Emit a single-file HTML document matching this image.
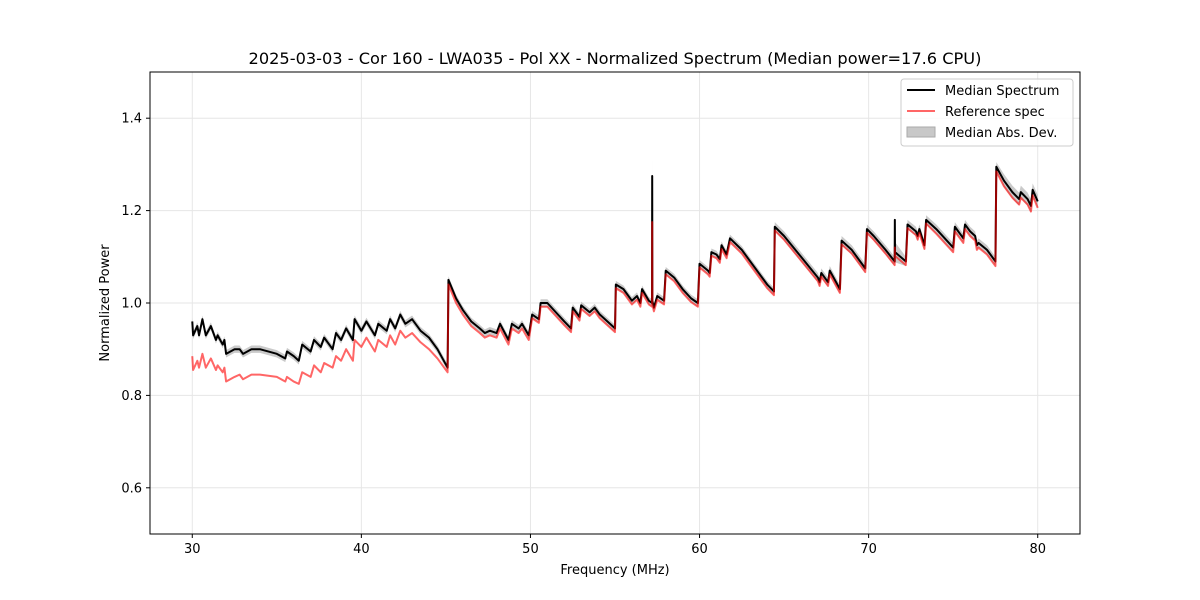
<!DOCTYPE html>
<html><head><meta charset="utf-8"><style>
body{margin:0;background:#fff;}
svg{display:block;font-family:"DejaVu Sans","Liberation Sans",sans-serif;}
</style></head><body>
<svg id="chart" width="1200" height="600">
<rect width="1200" height="600" fill="#fff"/>
<text x="615" y="64" text-anchor="middle" font-size="16.2">2025-03-03 - Cor 160 - LWA035 - Pol XX - Normalized Spectrum (Median power=17.6 CPU)</text>
<g id="grid"></g>
<g id="marks"></g>
<rect x="150" y="72" width="930" height="462" fill="none" stroke="#000" stroke-width="1"/>
<g id="axes"></g>
<text x="615" y="574" text-anchor="middle" font-size="13">Frequency (MHz)</text>
<text transform="translate(109,303) rotate(-90)" text-anchor="middle" font-size="13">Normalized Power</text>
<g>
<rect x="901" y="79" width="172" height="67" rx="3" fill="#fff" fill-opacity="0.8" stroke="#ccc"/>
<line x1="907" y1="90" x2="935" y2="90" stroke="#000" stroke-width="2"/>
<text x="945" y="95" font-size="13">Median Spectrum</text>
<line x1="907" y1="111" x2="935" y2="111" stroke="#ff6666" stroke-width="2"/>
<text x="945" y="116" font-size="13">Reference spec</text>
<rect x="907" y="127" width="28" height="10" fill="#c8c8c8" stroke="#aaa"/>
<text x="945" y="137" font-size="13">Median Abs. Dev.</text>
</g>
</svg>
<script>
const freqs=[30.0,30.05,30.3,30.4,30.6,30.8,31.1,31.4,31.5,31.8,31.9,32.0,32.5,32.8,33.0,33.5,34.0,35.0,35.5,35.6,36.0,36.3,36.5,37.0,37.2,37.6,37.8,38.3,38.5,38.8,39.1,39.5,39.6,40.0,40.3,40.8,41.0,41.5,41.7,42.0,42.3,42.6,43.0,43.5,44.0,44.5,45.1,
45.15,45.6,46.0,46.5,47.0,47.3,47.6,48.0,48.2,48.7,48.9,49.3,49.5,49.9,50.1,50.5,50.6,51.0,51.5,52.0,52.4,52.5,52.9,53.0,53.5,53.8,54.1,55.0,55.05,55.5,56.0,56.3,56.5,56.6,57.0,57.19,57.2,57.21,57.3,57.5,57.9,58.0,58.5,59.0,59.5,59.9,60.0,60.5,60.6,60.7,61.0,61.2,61.3,61.6,61.8,62.5,63.0,64.0,64.4,64.45,65.0,66.0,67.0,67.1,67.2,67.6,67.7,68.3,68.4,69.0,69.8,69.9,70.3,71.0,71.54,71.55,71.56,72.2,72.3,72.8,72.9,73.0,73.3,73.4,74.0,75.0,75.1,75.6,75.7,76.0,76.3,76.4,76.5,77.0,77.5,77.55,78.0,78.5,78.9,79.0,79.4,79.6,79.7,80.0];
const median=[.96,.93,.95,.93,.965,.93,.95,.92,.93,.91,.92,.89,.90,.90,.89,.90,.90,.89,.88,.895,.885,.875,.91,.895,.92,.905,.925,.90,.935,.92,.945,.92,.965,.94,.96,.93,.955,.94,.965,.945,.975,.955,.965,.94,.925,.9,.86,
1.05,1.01,.985,.96,.945,.935,.94,.935,.955,.92,.955,.945,.955,.93,.975,.965,1.0,1.0,.98,.96,.945,.99,.97,.995,.98,.99,.975,.945,1.04,1.03,1.005,1.015,1.0,1.03,1.005,1.0,1.275,1.005,.99,1.015,1.005,1.07,1.055,1.03,1.01,1.0,1.085,1.07,1.065,1.11,1.105,1.095,1.125,1.105,1.14,1.115,1.09,1.04,1.025,1.165,1.145,1.1,1.055,1.045,1.065,1.045,1.07,1.03,1.135,1.115,1.075,1.16,1.145,1.115,1.09,1.18,1.11,1.09,1.17,1.155,1.145,1.16,1.125,1.18,1.16,1.12,1.165,1.14,1.17,1.155,1.145,1.125,1.13,1.115,1.09,1.295,1.265,1.24,1.225,1.24,1.225,1.21,1.245,1.22];
const reference=[.885,.855,.875,.86,.89,.86,.88,.855,.865,.85,.86,.83,.84,.845,.835,.845,.845,.84,.83,.84,.83,.825,.85,.84,.865,.85,.87,.86,.885,.875,.9,.875,.92,.905,.925,.895,.92,.905,.93,.91,.94,.925,.935,.915,.9,.88,.85,
1.04,1.0,.975,.95,.935,.925,.93,.925,.945,.91,.945,.935,.945,.92,.967,.957,.992,.992,.972,.952,.937,.982,.962,.987,.972,.982,.967,.937,1.032,1.022,.997,1.007,.992,1.022,.997,.992,1.175,.997,.982,1.007,.997,1.062,1.047,1.022,1.002,.992,1.077,1.062,1.057,1.102,1.097,1.087,1.117,1.097,1.132,1.107,1.082,1.032,1.017,1.157,1.137,1.092,1.047,1.037,1.057,1.037,1.062,1.022,1.127,1.107,1.067,1.152,1.137,1.107,1.082,1.12,1.102,1.082,1.162,1.147,1.137,1.152,1.117,1.172,1.15,1.11,1.155,1.13,1.16,1.145,1.135,1.115,1.12,1.105,1.08,1.285,1.253,1.228,1.213,1.228,1.213,1.198,1.233,1.206];
const mad=[.008,.008,.008,.008,.008,.008,.008,.008,.008,.008,.008,.008,.008,.008,.008,.008,.008,.008,.008,.008,.008,.008,.008,.008,.008,.008,.008,.008,.008,.008,.008,.008,.008,.008,.008,.008,.008,.008,.008,.008,.008,.008,.008,.008,.008,.008,.008,
.008,.008,.008,.008,.008,.008,.008,.008,.008,.008,.008,.008,.008,.008,.008,.008,.008,.008,.008,.008,.008,.008,.008,.008,.008,.008,.008,.008,.008,.008,.008,.008,.008,.008,.008,.008,.035,.008,.008,.008,.008,.008,.008,.008,.008,.008,.008,.008,.008,.008,.008,.008,.008,.008,.008,.008,.008,.008,.008,.01,.01,.01,.01,.01,.01,.01,.01,.01,.01,.01,.01,.01,.01,.01,.01,.01,.022,.01,.01,.01,.01,.01,.01,.01,.01,.01,.01,.01,.01,.01,.01,.01,.01,.01,.01,.01,.014,.014,.014,.014,.014,.014,.014,.014,.014];
const xTicks=[30,40,50,60,70,80];
const yTicks=[0.6,0.8,1.0,1.2,1.4];
const yTickLabels=["0.6","0.8","1.0","1.2","1.4"];

const NS="http://www.w3.org/2000/svg";
const X0=150,X1=1080,Y0=72,Y1=534,XMIN=27.5,XMAX=82.5,YMIN=0.5,YMAX=1.5;
function sx(v){return X0+(v-XMIN)/(XMAX-XMIN)*(X1-X0);}
function sy(v){return Y1-(v-YMIN)/(YMAX-YMIN)*(Y1-Y0);}
function mk(tag,attrs,parent){const e=document.createElementNS(NS,tag);for(const k in attrs)e.setAttribute(k,attrs[k]);parent.appendChild(e);return e;}
const grid=document.getElementById('grid'),axes=document.getElementById('axes'),marks=document.getElementById('marks');
xTicks.forEach(t=>{const x=sx(t);
 const g=mk('line',{x1:x,x2:x,y1:Y0,y2:Y1,stroke:'#e6e6e6','stroke-width':1},grid);
 
 
 const tk=mk('line',{x1:x,x2:x,y1:Y1,y2:Y1+4,stroke:'#000'},axes);
 
 
 const tx=mk('text',{x:x,y:Y1+19,'text-anchor':'middle','font-size':13},axes);tx.textContent=String(t);
 
 
});
yTicks.forEach((t,i)=>{const y=sy(t);
 const g=mk('line',{x1:X0,x2:X1,y1:y,y2:y,stroke:'#e6e6e6','stroke-width':1},grid);
 
 
 const tk=mk('line',{x1:X0-4,x2:X0,y1:y,y2:y,stroke:'#000'},axes);
 
 
 const tx=mk('text',{x:X0-8,y:y+4.5,'text-anchor':'end','font-size':13},axes);tx.textContent=yTickLabels[i];
 
 
});
let up=[],dn=[];
freqs.forEach((f,i)=>{up.push(sx(f)+','+sy(median[i]+mad[i]));dn.unshift(sx(f)+','+sy(median[i]-mad[i]));});
const band=mk('polygon',{points:up.concat(dn).join(' '),fill:'#b4b4b4','fill-opacity':0.7,stroke:'none'},marks);


const mp=freqs.map((f,i)=>sx(f)+','+sy(median[i])).join(' ');
const ml=mk('polyline',{points:mp,fill:'none',stroke:'#000','stroke-width':2,'stroke-linejoin':'round'},marks);


const rp=freqs.map((f,i)=>sx(f)+','+sy(reference[i])).join(' ');
const rl=mk('polyline',{points:rp,fill:'none',stroke:'#ff0000','stroke-opacity':0.6,'stroke-width':2,'stroke-linejoin':'round'},marks);


</script>
</body></html>
